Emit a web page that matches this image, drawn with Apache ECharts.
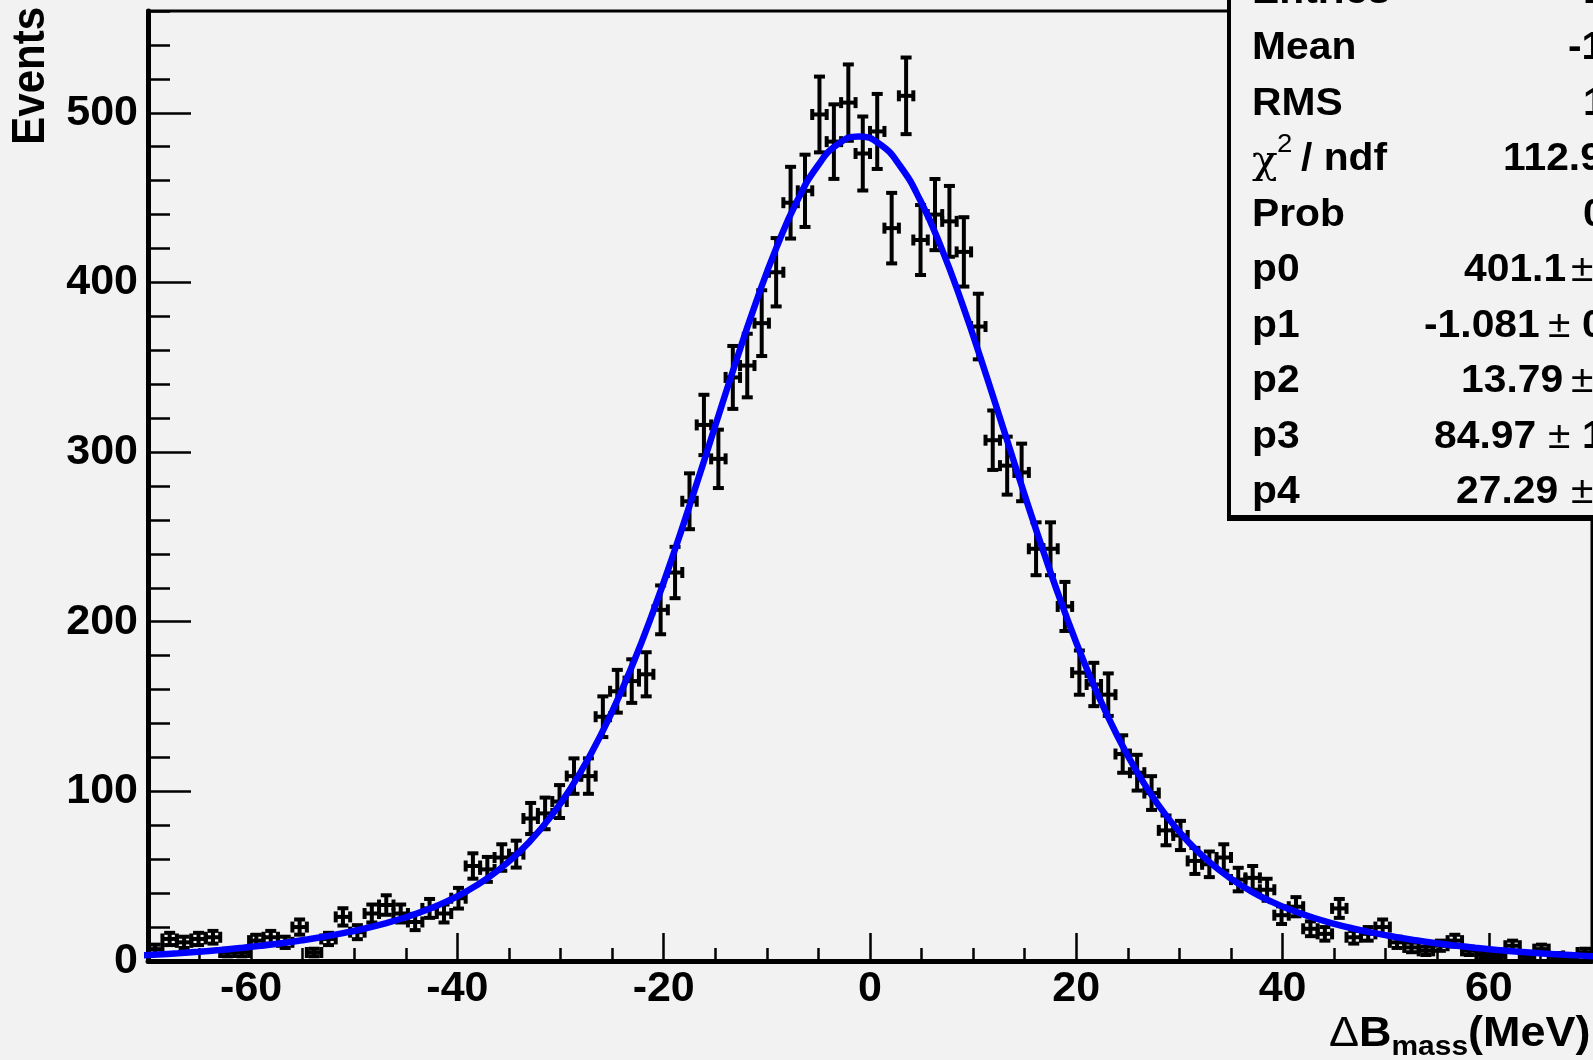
<!DOCTYPE html>
<html>
<head>
<meta charset="utf-8">
<script src="https://cdn.jsdelivr.net/npm/echarts@6/dist/echarts.min.js"></script>
<style>
html,body{margin:0;padding:0;background:#f2f2f2;}
#c{width:1593px;height:1060px;}
</style>
</head>
<body>
<div id="c"></div>
<script>
// ---------------- data ----------------
const nBins = 100, xLow = -70, xHigh = 70;
const binWidth = (xHigh - xLow) / nBins;

const counts = [
  7, 13, 11, 13, 14, 5, 5, 12, 14, 11,
  20, 5, 13, 26, 17, 28, 33, 28, 23, 31,
  28, 37, 56, 54, 61, 63, 84, 87, 94, 109,
  109, 144, 159, 165, 169, 207, 229, 271, 316, 296,
  344, 351, 376, 406, 447, 454, 499, 483, 506, 476,
  489, 432, 510, 425, 440, 436, 418, 374, 307, 292,
  288, 243, 243, 209, 170, 163, 157, 122, 111, 99,
  77, 74, 59, 57, 61, 48, 49, 42, 27, 32,
  19, 16, 31, 14, 16, 20, 11, 8, 6, 9,
  12, 6, 4, 3, 9, 3, 7, 3, 2, 5
];

const fitX = [
  -71.081, -69.081, -67.081, -65.081, -63.081, -61.081, -59.081, -57.081, -55.081, -53.081,
  -51.081, -49.081, -47.081, -45.081, -43.081, -41.081, -39.081, -37.081, -35.081, -33.081,
  -31.081, -29.081, -27.081, -25.081, -23.081, -21.081, -19.081, -17.081, -15.081, -13.081,
  -11.081, -9.081, -7.081, -5.081, -3.081, -1.081,
  0.919, 2.919, 4.919, 6.919, 8.919, 10.919, 12.919, 14.919, 16.919, 18.919,
  20.919, 22.919, 24.919, 26.919, 28.919, 30.919, 32.919, 34.919, 36.919, 38.919,
  40.919, 42.919, 44.919, 46.919, 48.919, 50.919, 52.919, 54.919, 56.919, 58.919,
  60.919, 62.919, 64.919, 66.919, 68.919, 70.919
];
const fitY = [
  3.17, 3.81, 4.56, 5.44, 6.45, 7.61, 8.94, 10.46, 12.19, 14.16,
  16.42, 19.03, 22.06, 25.63, 29.88, 35.00, 41.23, 48.87, 58.29, 69.90,
  84.07, 101.25, 121.79, 145.92, 173.75, 205.07, 239.48, 276.16, 314.06, 351.81,
  387.82, 420.38, 447.81, 468.64, 481.64, 486.07,
  481.64, 468.64, 447.81, 420.38, 387.82, 351.81, 314.06, 276.16, 239.48, 205.07,
  173.75, 145.92, 121.79, 101.25, 84.07, 69.90, 58.29, 48.87, 41.23, 35.00,
  29.88, 25.63, 22.06, 19.03, 16.42, 14.16, 12.19, 10.46, 8.94, 7.61,
  6.45, 5.44, 4.56, 3.81, 3.17, 2.62
];

const xMajorTicks = [-60, -40, -20, 0, 20, 40, 60];
const yMajorTicks = [0, 100, 200, 300, 400, 500];

const statsLabels = ['Entries', 'Mean', 'RMS', 'Prob', 'p0', 'p1', 'p2', 'p3', 'p4'];
const statsValues = ['13968', '-1.171', '17.35', '0.1007', '401.1', '-1.081', '13.79', '84.97', '27.29'];
const statsErrors = ['', '', '', '', '11.3', '0.133', '0.36', '11.12', '1.59'];
const chiValue = '112.9 / 95';

// ---------------- helpers ----------------
const FONT = "'Liberation Sans', Arial, Helvetica, sans-serif";
const mctx = document.createElement('canvas').getContext('2d');
function tw(text, size, weight) {
  mctx.font = (weight || 'normal') + ' ' + size + 'px ' + FONT;
  return mctx.measureText(text).width;
}

const hist = counts.map((v, i) => [xLow + binWidth * (i + 0.5), v, Math.sqrt(v)]);

function renderErr(params, api) {
  const x = api.value(0), y = api.value(1), e = api.value(2);
  const top = api.coord([x, y + e]);
  const bot = api.coord([x, Math.max(y - e, 0)]);
  const l = api.coord([x - binWidth / 2, y]);
  const r = api.coord([x + binWidth / 2, y]);
  const cap = 5.5;
  const st = { stroke: '#000', lineWidth: 4, lineCap: 'butt' };
  const segs = [
    [top[0], top[1], bot[0], bot[1]],
    [top[0] - cap, top[1], top[0] + cap, top[1]],
    [bot[0] - cap, bot[1], bot[0] + cap, bot[1]],
    [l[0], l[1], r[0], r[1]],
    [l[0], l[1] - cap, l[0], l[1] + cap],
    [r[0], r[1] - cap, r[0], r[1] + cap]
  ];
  return {
    type: 'group',
    children: segs.map(s => ({ type: 'line', shape: { x1: s[0], y1: s[1], x2: s[2], y2: s[3] }, style: st }))
  };
}

// ---------------- graphics (stats box, titles) ----------------
const SX = 1.06;
const graphics = [];
graphics.push({ type: 'rect', z: 100, shape: { x: 1229, y: -30, width: 420, height: 547 },
  style: { fill: '#f2f2f2', stroke: '#000', lineWidth: 4 } });
graphics.push({ type: 'rect', z: 101, shape: { x: 1227, y: 515, width: 420, height: 6 }, style: { fill: '#000' } });

const rowY = { Entries: -7.5, Mean: 48, RMS: 104, chi: 159, Prob: 215, p0: 270, p1: 326, p2: 381, p3: 437, p4: 492 };
const valX = { Entries: 1583, Mean: 1568, RMS: 1583, Prob: 1583, p0: 1464, p1: 1424, p2: 1461, p3: 1434, p4: 1456 };
const pmX = { p0: 1571, p1: 1548, p2: 1571, p3: 1548, p4: 1571 };
const SF = 38.5;
statsLabels.forEach((lab, i) => {
  const y = rowY[lab];
  graphics.push({ type: 'text', z: 102, x: 1252, y: y, scaleX: SX,
    style: { text: lab, fontSize: SF, fontWeight: 'bold', fontFamily: FONT, fill: '#000', textAlign: 'left', textVerticalAlign: 'middle' } });
  graphics.push({ type: 'text', z: 102, x: valX[lab], y: y, scaleX: SX,
    style: { text: statsValues[i], fontSize: SF, fontWeight: 'bold', fontFamily: FONT, fill: '#000', textAlign: 'left', textVerticalAlign: 'middle' } });
  if (statsErrors[i]) {
    graphics.push({ type: 'text', z: 102, x: pmX[lab], y: y, scaleX: SX,
      style: { text: '±', fontSize: SF, fontWeight: 'normal', fontFamily: FONT, fill: '#000', textAlign: 'left', textVerticalAlign: 'middle' } });
    graphics.push({ type: 'text', z: 102, x: pmX[lab] + 34, y: y, scaleX: SX,
      style: { text: statsErrors[i], fontSize: SF, fontWeight: 'bold', fontFamily: FONT, fill: '#000', textAlign: 'left', textVerticalAlign: 'middle' } });
  }
});
graphics.push({ type: 'text', z: 102, x: 1252, y: 163, scaleX: SX,
  style: { text: 'χ', fontSize: 40, fontFamily: "'DejaVu Serif', serif", fill: '#000', textAlign: 'left', textVerticalAlign: 'middle' } });
graphics.push({ type: 'text', z: 102, x: 1277, y: 145, scaleX: SX,
  style: { text: '2', fontSize: 26, fontWeight: 'normal', fontFamily: FONT, fill: '#000', textAlign: 'left', textVerticalAlign: 'middle' } });
graphics.push({ type: 'text', z: 102, x: 1301, y: rowY.chi, scaleX: SX,
  style: { text: '/ ndf', fontSize: SF, fontWeight: 'bold', fontFamily: FONT, fill: '#000', textAlign: 'left', textVerticalAlign: 'middle' } });
graphics.push({ type: 'text', z: 102, x: 1503, y: rowY.chi, scaleX: SX,
  style: { text: chiValue, fontSize: SF, fontWeight: 'bold', fontFamily: FONT, fill: '#000', textAlign: 'left', textVerticalAlign: 'middle' } });

(function () {
  const TS = 42, SS = 28, TX = 1.07;
  let x = 1329;
  const yMain = 1034, ySub = 1047;
  const parts = [
    { t: 'Δ', s: TS, w: 'normal', y: yMain },
    { t: 'B', s: TS, w: 'bold', y: yMain },
    { t: 'mass', s: SS, w: 'bold', y: ySub },
    { t: '(MeV)', s: TS, w: 'bold', y: yMain }
  ];
  parts.forEach(p => {
    graphics.push({ type: 'text', z: 50, x: x, y: p.y, scaleX: TX,
      style: { text: p.t, fontSize: p.s, fontWeight: p.w, fontFamily: FONT, fill: '#000', textAlign: 'left', textVerticalAlign: 'middle' } });
    x += tw(p.t, p.s, p.w) * TX;
  });
})();
graphics.push({ type: 'text', z: 50, x: 31, y: 7, rotation: Math.PI / 2, scaleY: 1.1,
  style: { text: 'Events', fontSize: 42, fontWeight: 'bold', fontFamily: FONT, fill: '#000', textAlign: 'right', textVerticalAlign: 'middle' } });

// ---------------- chart ----------------
const chart = echarts.init(document.getElementById('c'), null, { renderer: 'canvas' });
const tickStyle = { color: '#000', width: 2.5 };
const labelStyle = { fontFamily: FONT, fontWeight: 'bold', fontSize: 43, color: '#000' };

chart.setOption({
  backgroundColor: '#f2f2f2',
  animation: false,
  grid: { left: 148, right: 1, top: 11, bottom: 99, show: true, borderColor: '#000', borderWidth: 3, backgroundColor: 'transparent' },
  xAxis: [
    { type: 'value', min: xLow, max: xHigh, position: 'bottom',
      axisLine: { show: true, onZero: false, lineStyle: { color: '#000', width: 5 } },
      axisTick: { show: true, inside: true, length: 28, lineStyle: tickStyle, customValues: xMajorTicks },
      axisLabel: Object.assign({ show: true, margin: 7, customValues: xMajorTicks }, labelStyle),
      splitLine: { show: false } },
    { type: 'value', min: xLow, max: xHigh, interval: 5, position: 'bottom',
      axisLine: { show: false, onZero: false },
      axisTick: { show: true, inside: true, length: 13, lineStyle: tickStyle },
      axisLabel: { show: false }, splitLine: { show: false } }
  ],
  yAxis: [
    { type: 'value', min: 0, max: 560, position: 'left',
      axisLine: { show: true, onZero: false, lineStyle: { color: '#000', width: 5 } },
      axisTick: { show: true, inside: true, length: 43, lineStyle: tickStyle, customValues: yMajorTicks },
      axisLabel: Object.assign({ show: true, margin: 10, customValues: yMajorTicks }, labelStyle),
      splitLine: { show: false } },
    { type: 'value', min: 0, max: 560, interval: 20, position: 'left',
      axisLine: { show: false, onZero: false },
      axisTick: { show: true, inside: true, length: 22, lineStyle: tickStyle },
      axisLabel: { show: false }, splitLine: { show: false } }
  ],
  series: [
    { type: 'custom', xAxisIndex: 0, yAxisIndex: 0, renderItem: renderErr, data: hist, clip: true, z: 2 },
    { type: 'line', xAxisIndex: 0, yAxisIndex: 0, data: fitX.map((x, i) => [x, fitY[i]]),
      smooth: true, showSymbol: false, clip: true, z: 3,
      lineStyle: { color: '#0000ff', width: 6.5 } }
  ],
  graphic: graphics
});
</script>
</body>
</html>
